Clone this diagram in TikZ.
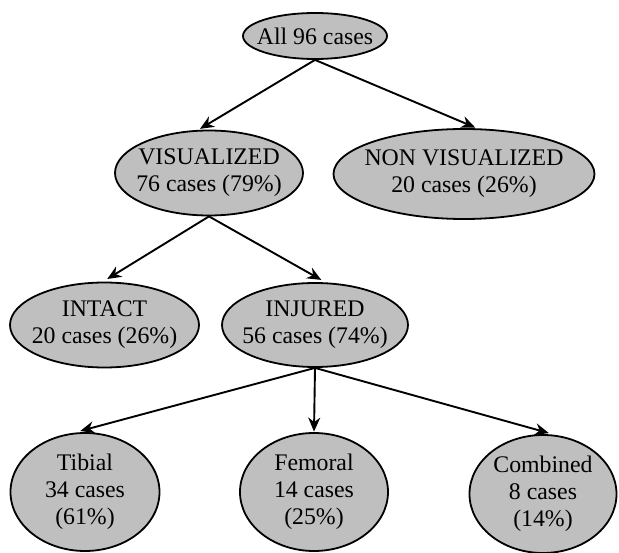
\documentclass[tikz,border=0pt]{standalone}
\usepackage{fontspec}
\setmainfont{Liberation Serif}
\usepackage{tikz}
\usetikzlibrary{shapes.geometric,arrows.meta}

\tikzset{
  blob/.style={ellipse, draw=black, line width=1.8pt, fill=black!25, inner sep=0pt},
  txt/.style={align=center, inner sep=0pt, font=\rmfamily\fontsize{23.8}{27}\selectfont},
  arr/.style={line width=1.9pt, -{Stealth[length=14pt,width=12pt]}, shorten >=2pt}
}

\begin{document}
\begin{tikzpicture}[x=1pt,y=-1pt]
  \useasboundingbox (0,0) rectangle (619,553);

  %% top
  \node[blob, minimum width=144pt, minimum height=46pt] (all) at (315,36) {};
  \node[txt] (allt) at (all) {All 96 cases};

  %% second row
  \node[blob, minimum width=188pt, minimum height=85pt] (vis) at (209,173) {};
  \node[txt] (vist) at (vis) {VISUALIZED\\76 cases (79\%)};
  \node[blob, minimum width=261pt, minimum height=90pt] (nonvis) at (464,174) {};
  \node[txt] (nonvist) at (nonvis) {NON VISUALIZED\\20 cases (26\%)};

  %% third row
  \node[blob, minimum width=189pt, minimum height=85pt] (intact) at (104.5,325) {};
  \node[txt] (intactt) at (intact) {INTACT\\20 cases (26\%)};
  \node[blob, minimum width=186pt, minimum height=84pt] (injured) at (315,325) {};
  \node[txt] (injuredt) at (injured) {INJURED\\56 cases (74\%)};

  %% bottom row
  \node[blob, minimum width=149pt, minimum height=118pt] (tibial) at (85,492) {};
  \node[txt] (tibialt) at (tibial) {Tibial\\34 cases\\(61\%)};
  \node[blob, minimum width=148pt, minimum height=118pt] (femoral) at (314,492) {};
  \node[txt] (femoralt) at (femoral) {Femoral\\14 cases\\(25\%)};
  \node[blob, minimum width=147pt, minimum height=118pt] (combined) at (543,494) {};
  \node[txt] (combinedt) at (combined) {Combined\\8 cases\\(14\%)};

  %% arrows
  \draw[arr] (all.south) -- (vis.104);
  \draw[arr] (all.south) -- (nonvis.74);
  \draw[arr, shorten >=5pt] (vis.south) -- (intact.92);
  \draw[arr, shorten >=5pt] (vis.south) -- (injured.76);
  \draw[arr, shorten >=7pt] (injured.south) -- (tibial.101);
  \draw[arr, shorten >=0.5pt] (injured.south) -- (femoral.north);
  \draw[arr, shorten >=7pt] (injured.south) -- (combined.78);
\end{tikzpicture}
\end{document}
